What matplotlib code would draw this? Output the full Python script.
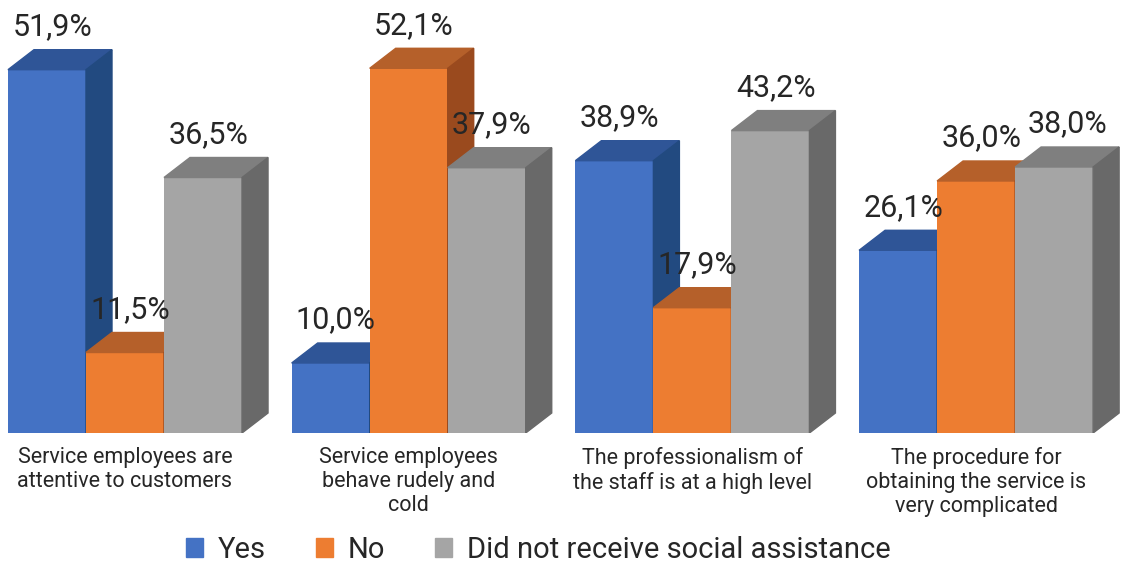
import matplotlib.pyplot as plt
from matplotlib.patches import Polygon, Patch
import numpy as np

# donnees
categories = ["Service employees are\nattentive to customers",
              "Service employees\nbehave rudely and\ncold",
              "The professionalism of\nthe staff is at a high level",
              "The procedure for\nobtaining the service is\nvery complicated"]
series = ["Yes", "No", "Did not receive social assistance"]
yes = [51.9, 10.0, 38.9, 26.1]
no = [11.5, 52.1, 17.9, 36.0]
no_help = [36.5, 37.9, 43.2, 38.0]

plt.rcParams['font.family'] = ['Roboto', 'DejaVu Sans']

front = ["#4472C4", "#ED7D31", "#A5A5A5"]
top = ["#2F5597", "#B5602A", "#7F7F7F"]
side = ["#224A80", "#9A4A1E", "#696969"]

fig = plt.figure(figsize=(11.45, 5.66), dpi=100)
ax = fig.add_axes([0, 133 / 566, 1, 433 / 566])
ax.set_xlim(-125 / 283.7, 1020 / 283.7)
ax.set_ylim(0, 433 / 7)
ax.axis('off')

w = 0.275        # largeur d'une barre
dx = 26 / 283.7  # profondeur horizontale
dy = 20 / 7      # profondeur verticale

renderer = fig.canvas.get_renderer()
x = np.arange(len(categories))
z = 2
for i in range(len(categories)):
    prev = None
    for j, vals in enumerate([yes, no, no_help]):
        xc = x[i] + (j - 1) * w
        h = vals[i]
        x0, x1 = xc - w / 2, xc + w / 2
        ax.bar(xc, h, width=w, color=front[j], zorder=z)
        ax.add_patch(Polygon([[x0, h], [x1, h], [x1 + dx, h + dy], [x0 + dx, h + dy]],
                             closed=True, color=top[j], zorder=z))
        ax.add_patch(Polygon([[x1, 0], [x1, h], [x1 + dx, h + dy], [x1 + dx, dy]],
                             closed=True, color=side[j], zorder=z))
        t = ax.text(xc + dx * 0.2, h + dy + 1.2, f"{h:.1f}%".replace(".", ","),
                    ha='center', va='bottom', fontsize=22, color="#262626", zorder=20)
        # decaler l'etiquette si elle chevauche la precedente
        bb = t.get_window_extent(renderer)
        if prev is not None and bb.overlaps(prev):
            shift = (prev.x1 + 6 - bb.x0) / 283.7
            t.set_x(t.get_position()[0] + shift)
            bb = t.get_window_extent(renderer)
        prev = bb
        z += 1
    ax.text(x[i], -2.0, categories[i], ha='center', va='top', fontsize=15.5,
            color="#262626", linespacing=1.2, clip_on=False)

handles = [Patch(color=front[j], label=series[j]) for j in range(3)]
fig.legend(handles=handles, loc='center', bbox_to_anchor=(0.47, 1 - 550 / 566), ncol=3,
           frameon=False, fontsize=21, handlelength=0.6, handleheight=0.6,
           handletextpad=0.5, columnspacing=1.7, labelcolor="#262626")

fig.savefig("out.png", dpi=100)
